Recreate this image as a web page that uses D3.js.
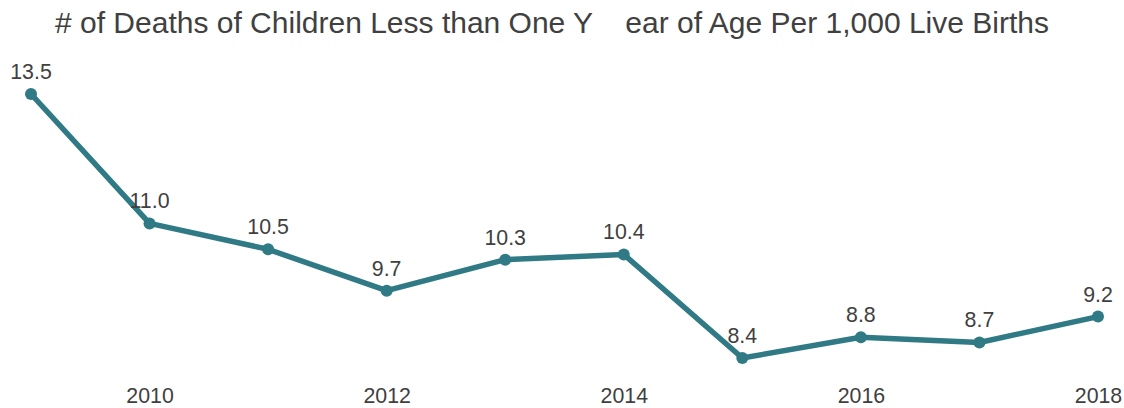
<!DOCTYPE html>
<html>
<head>
<meta charset="utf-8">
<script src="https://cdn.jsdelivr.net/npm/d3@7"></script>
<style>
  html, body { margin: 0; padding: 0; background: #fff; }
  svg { display: block; font-family: "Liberation Sans", Arial, sans-serif; }
</style>
</head>
<body>
<svg id="chart" width="1124" height="408"></svg>
<script>
// Infant mortality rate by year
const years = [2009, 2010, 2011, 2012, 2013, 2014, 2015, 2016, 2017, 2018];
const rates = [13.5, 11.0, 10.5, 9.7, 10.3, 10.4, 8.4, 8.8, 8.7, 9.2];
const tickYears = [2010, 2012, 2014, 2016, 2018];

const data = years.map((y, i) => ({ year: y, value: rates[i] }));

const svg = d3.select("#chart");
const lineColor = "#2f7a85";
const textColor = "#404040";

const x = d3.scaleLinear().domain([2009, 2018]).range([31, 1098]);
const y = d3.scaleLinear().domain([8.4, 13.5]).range([358, 94]);

// Title
const title = svg.append("text")
  .attr("x", 55)
  .attr("y", 33)
  .attr("fill", textColor)
  .attr("font-size", "30px");
title.append("tspan").text("# of Deaths of Children Less than One Y");
title.append("tspan").attr("dx", 35).text("ear of Age Per 1,000 Live Births");

// X axis: labels only
const xAxis = d3.axisBottom(x)
  .tickValues(tickYears)
  .tickFormat(d3.format("d"))
  .tickSize(0)
  .tickPadding(0);

const gx = svg.append("g")
  .attr("transform", "translate(0,388)")
  .call(xAxis);
gx.select(".domain").remove();
gx.selectAll("text")
  .attr("fill", textColor)
  .attr("font-size", "21.33px")
  .attr("font-family", "'Liberation Sans', Arial, sans-serif");

// Line
const line = d3.line()
  .x(d => x(d.year))
  .y(d => y(d.value));

svg.append("path")
  .datum(data)
  .attr("fill", "none")
  .attr("stroke", lineColor)
  .attr("stroke-width", 5.5)
  .attr("stroke-linejoin", "round")
  .attr("d", line);

// Markers
svg.selectAll("circle.pt")
  .data(data)
  .join("circle")
  .attr("class", "pt")
  .attr("cx", d => x(d.year))
  .attr("cy", d => y(d.value))
  .attr("r", 6)
  .attr("fill", lineColor);

// Value labels
svg.selectAll("text.val")
  .data(data)
  .join("text")
  .attr("class", "val")
  .attr("x", d => x(d.year))
  .attr("y", d => y(d.value) - 15)
  .attr("text-anchor", "middle")
  .attr("fill", textColor)
  .attr("font-size", "21.33px")
  .text(d => d3.format(".1f")(d.value));
</script>
</body>
</html>
